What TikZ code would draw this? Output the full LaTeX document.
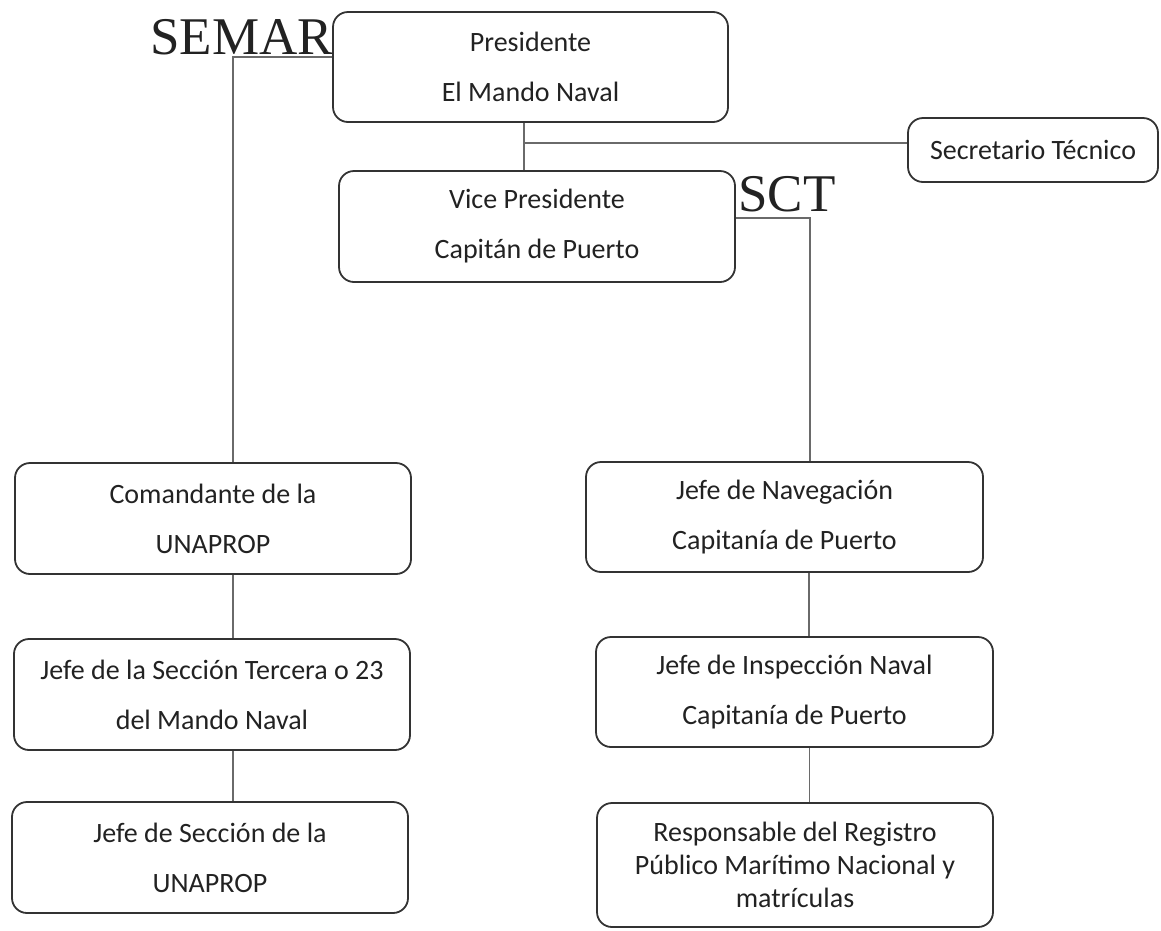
\documentclass[tikz,border=0pt]{standalone}
\usepackage{fontspec}
\setmainfont{Carlito}
\newfontfamily\serifbig{Liberation Serif}
\definecolor{boxline}{HTML}{333333}
\definecolor{connline}{HTML}{6A6A6A}
\definecolor{txt}{HTML}{222222}
\begin{document}
\begin{tikzpicture}[x=1pt,y=-1pt,
  box/.style={draw=boxline, line width=1.8pt, rounded corners=15pt, align=center,
    text=txt, inner sep=0pt, font=\fontsize{28}{50}\selectfont},
  conn/.style={draw=connline, line width=1.3pt},
  bigtxt/.style={text=txt, inner sep=0pt, font=\serifbig\fontsize{53}{53}\selectfont}]
\useasboundingbox (0,0) rectangle (1161,930);
\node[box, minimum width=395, minimum height=110] (pres) at (530.5,67) {Presidente\\El Mando Naval};
\node[box, minimum width=396, minimum height=111] (vice) at (537,226.5) {Vice Presidente\\Capitán de Puerto};
\node[box, minimum width=250, minimum height=64] (sec) at (1033,150) {Secretario Técnico};
\node[box, minimum width=396, minimum height=111] (coman) at (213,518.5) {Comandante de la\\UNAPROP};
\node[box, minimum width=396, minimum height=111] (terc) at (212,694.5) {Jefe de la Sección Tercera o 23\\del Mando Naval};
\node[box, minimum width=396, minimum height=111] (secc) at (210,857.5) {Jefe de Sección de la\\UNAPROP};
\node[box, minimum width=397, minimum height=110] (nav) at (784.5,517) {Jefe de Navegación\\Capitanía de Puerto};
\node[box, minimum width=397, minimum height=110] (insp) at (794.5,692) {Jefe de Inspección Naval\\Capitanía de Puerto};
\node[box, minimum width=396, minimum height=124, font=\fontsize{28}{33}\selectfont] (resp) at (795,865) {Responsable del Registro\\Público Marítimo Nacional y\\matrículas};
\node[bigtxt, anchor=base west] (semar) at (150,54) {SEMAR};
\node[bigtxt, anchor=base west] (sct) at (738,211) {SCT};
\coordinate (j) at (524,143);
\draw[conn] ([yshift=10pt]pres.west) -| ([xshift=20pt]coman.north);
\draw[conn] ([xshift=-6.5pt]pres.south) -- (j) -- (j |- vice.north);
\draw[conn] (j) -- (j -| sec.west);
\draw[conn] ([yshift=8.5pt]vice.east) -| ([xshift=25.5pt]nav.north);
\draw[conn] ([xshift=20pt]coman.south) -- ([xshift=20pt]coman.south |- terc.north);
\draw[conn] ([xshift=21pt]terc.south) -- ([xshift=21pt]terc.south |- secc.north);
\draw[conn] ([xshift=24.5pt]nav.south) -- ([xshift=24.5pt]nav.south |- insp.north);
\draw[conn] ([xshift=15pt]insp.south) -- ([xshift=15pt]insp.south |- resp.north);
\end{tikzpicture}
\end{document}
